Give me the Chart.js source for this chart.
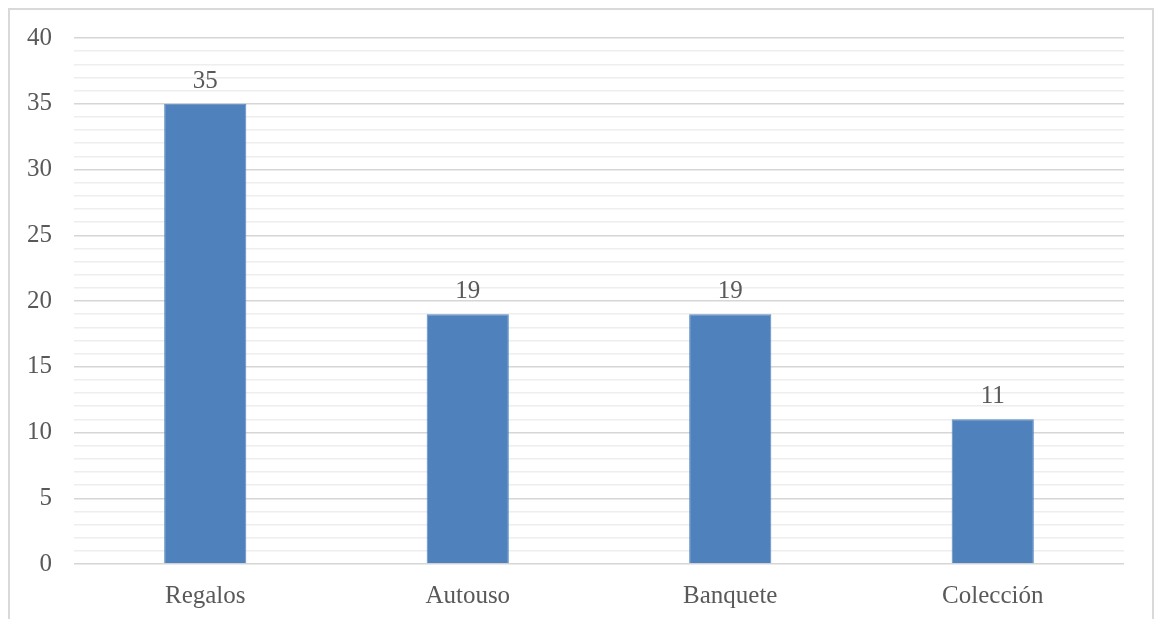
<!DOCTYPE html>
<html>
<head>
<meta charset="utf-8">
<script src="https://cdn.jsdelivr.net/npm/chart.js@4.4.1/dist/chart.umd.min.js"></script>
<style>
  html, body { margin: 0; padding: 0; background: #fff; }
  #frame {
    position: absolute; left: 8px; top: 8px; width: 1146px; height: 700px;
    border: 2px solid #d9d9d9; box-sizing: border-box;
  }
  #wrap { position: absolute; left: 0; top: 0; width: 1155px; height: 619px; }
</style>
</head>
<body>
<div id="frame"></div>
<div id="wrap"><canvas id="chart"></canvas></div>
<script>
const categories = ["Regalos", "Autouso", "Banquete", "Colección"]
const counts = [35, 19, 19, 11]
const yMax = 40
const labelFont = { family: "'Liberation Serif', serif", size: 25 }
const textColor = "#595959"

// writes each bar's value just above it
const valueLabels = {
  id: "valueLabels",
  afterDatasetsDraw(chart) {
    const ctx = chart.ctx
    const meta = chart.getDatasetMeta(0)
    ctx.save()
    ctx.font = `${labelFont.size}px ${labelFont.family}`
    ctx.fillStyle = textColor
    ctx.textAlign = "center"
    ctx.textBaseline = "alphabetic"
    meta.data.forEach((bar, i) => {
      ctx.fillText(String(counts[i]), bar.x, bar.y - 16)
    })
    ctx.restore()
  }
}

new Chart(document.getElementById("chart").getContext("2d"), {
  type: "bar",
  data: {
    labels: categories,
    datasets: [{
      data: counts,
      backgroundColor: "#4f81bd",
      borderColor: "#5a8ac3",
      borderWidth: 1,
      categoryPercentage: 1,
      barPercentage: 0.313
    }]
  },
  options: {
    responsive: true,
    maintainAspectRatio: false,
    animation: false,
    layout: { padding: { left: 0, right: 31, top: 38, bottom: 0 } },
    plugins: {
      legend: { display: false },
      tooltip: { enabled: false }
    },
    scales: {
      x: {
        grid: { display: false },
        border: { display: false },
        ticks: { color: textColor, font: labelFont, padding: 9 },
        afterFit(scale) { scale.height = 55 }
      },
      y: {
        min: 0,
        max: yMax,
        border: { display: false },
        grid: {
          drawTicks: false,
          tickLength: 0,
          lineWidth: 1.5,
          color: c => (c.tick && c.tick.value % 5 === 0) ? "#d6d6d6" : "#eeeeee"
        },
        ticks: {
          stepSize: 1,
          autoSkip: false,
          padding: 22,
          color: textColor,
          font: labelFont,
          callback: v => (v % 5 === 0 ? String(v) : "")
        },
        afterFit(scale) { scale.width = 74 }
      }
    }
  },
  plugins: [valueLabels]
})
</script>
</body>
</html>
